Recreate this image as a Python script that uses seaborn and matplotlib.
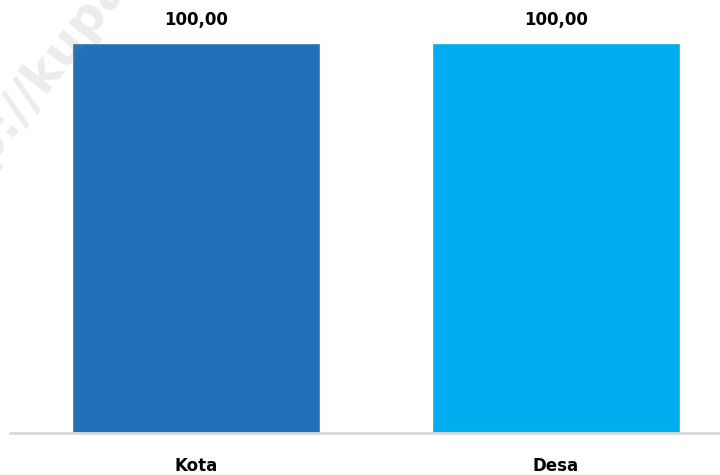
import matplotlib
matplotlib.use("Agg")
import matplotlib.pyplot as plt
import seaborn as sns
import pandas as pd

categories = ["Kota", "Desa"]
values = [100.00, 100.00]
value_labels = ["100,00", "100,00"]
colors = ["#2271B8", "#00AEEF"]

sns.set_theme(style="white")
plt.rcParams['font.family'] = ['DejaVu Sans']

df = pd.DataFrame({"cat": categories, "val": values})

fig = plt.figure(figsize=(7.2, 4.75), dpi=100)
ax = fig.add_axes([10/720, 42/475, 710/720, 390/475])
sns.barplot(data=df, x="cat", y="val", hue="cat", palette=colors,
            width=248/360, legend=False, ax=ax, saturation=1)

ax.set_xlim(-186/360, 524/360)
ax.set_ylim(0, 100)
ax.set_xlabel("")
ax.set_ylabel("")
ax.set_yticks([])
for s in ["top", "right", "left"]:
    ax.spines[s].set_visible(False)
ax.spines["bottom"].set_color("#d9d9d9")
ax.spines["bottom"].set_linewidth(2)
ax.tick_params(axis="x", length=0, pad=17)
for t in ax.get_xticklabels():
    t.set_fontweight("bold")
    t.set_fontsize(12)
    t.set_color("black")

for i, (v, lab) in enumerate(zip(values, value_labels)):
    ax.annotate(lab, (i, v), xytext=(0, 10), textcoords="offset points",
                ha="center", va="bottom", fontsize=12, fontweight="bold",
                color="black", annotation_clip=False)

fig.text(-0.13, 0.50, "http://kupang", rotation=52, fontsize=36,
         fontweight="bold", color="#808080", alpha=0.15, zorder=10,
         ha="left", va="bottom")

fig.savefig("out.png", dpi=100)
